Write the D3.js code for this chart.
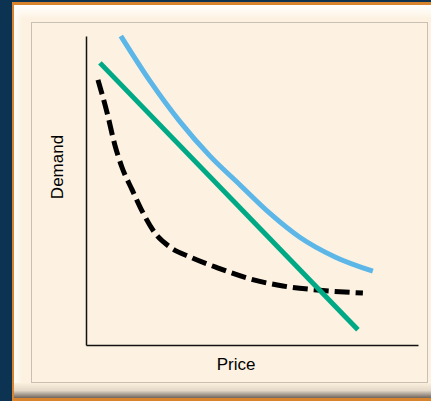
<!DOCTYPE html>
<html>
<head>
<meta charset="utf-8">
<script src="https://cdn.jsdelivr.net/npm/d3@7"></script>
<style>
  html, body { margin: 0; padding: 0; background: #0c3352; }
  svg { display: block; }
</style>
</head>
<body>
<svg id="chart" width="431" height="401"></svg>
<script>
// Price on the horizontal axis, demand on the vertical axis (relative units 0-100)
const elasticPrice   = [10.5, 19.3, 28.3, 37.3, 46.4, 55.4, 64.5, 75.0, 86.4];
const elasticDemand  = [100, 85.4, 72.3, 61.2, 51.8, 42.6, 34.8, 28.5, 23.9];

const linearPrice    = [4.2, 81.9];
const linearDemand   = [91.3, 4.9];

const inelasticPrice  = [3.6, 6.3, 8.7, 10.8, 13.9, 17.2, 20.8, 25.3, 31.3, 39.8, 49.4, 59.3, 69.6, 83.4];
const inelasticDemand = [85.8, 75.4, 64.7, 57.6, 50.2, 42.7, 36.2, 31.7, 28.5, 24.9, 21.4, 19.1, 17.8, 16.8];

const axisLabels = { x: "Price", y: "Demand" };

const svg = d3.select("#chart");
const W = 431, H = 401;

// ---- frame ----
const defs = svg.append("defs");
const topGlow = defs.append("linearGradient").attr("id", "topGlow")
  .attr("x1", 0).attr("y1", 0).attr("x2", 0).attr("y2", 1);
topGlow.append("stop").attr("offset", 0).attr("stop-color", "#fff").attr("stop-opacity", 1);
topGlow.append("stop").attr("offset", 1).attr("stop-color", "#fff").attr("stop-opacity", 0);

const leftGlow = defs.append("linearGradient").attr("id", "leftGlow")
  .attr("x1", 0).attr("y1", 0).attr("x2", 1).attr("y2", 0);
leftGlow.append("stop").attr("offset", 0).attr("stop-color", "#fff").attr("stop-opacity", 0.8);
leftGlow.append("stop").attr("offset", 1).attr("stop-color", "#fff").attr("stop-opacity", 0);

const bottomShade = defs.append("linearGradient").attr("id", "bottomShade")
  .attr("x1", 0).attr("y1", 0).attr("x2", 0).attr("y2", 1);
bottomShade.append("stop").attr("offset", 0).attr("stop-color", "#fbf0de");
bottomShade.append("stop").attr("offset", 0.5).attr("stop-color", "#e4d9c8");
bottomShade.append("stop").attr("offset", 1).attr("stop-color", "#6f655d");

// orange rim
svg.append("rect").attr("x", 12).attr("y", 2).attr("width", W - 12).attr("height", H - 2)
  .attr("fill", "#d8842f");
// outer cream panel
svg.append("rect").attr("x", 14).attr("y", 5).attr("width", W - 14).attr("height", H - 8)
  .attr("fill", "#fdf2e1");
// top and left highlights
svg.append("rect").attr("x", 14).attr("y", 5).attr("width", W - 14).attr("height", 14)
  .attr("fill", "url(#topGlow)");
svg.append("rect").attr("x", 14).attr("y", 5).attr("width", 8).attr("height", H - 8)
  .attr("fill", "url(#leftGlow)");
// bottom bevel
svg.append("rect").attr("x", 14).attr("y", 383).attr("width", W - 14).attr("height", 15)
  .attr("fill", "url(#bottomShade)");
// inner panel
svg.append("rect").attr("x", 31.5).attr("y", 22.5).attr("width", 396).attr("height", 360)
  .attr("fill", "#fdf2e1").attr("stroke", "#c9bfb2").attr("stroke-width", 1);

// ---- scales ----
const x = d3.scaleLinear().domain([0, 100]).range([86, 418]);
const y = d3.scaleLinear().domain([0, 100]).range([345, 36]);

// axes without ticks
const xAxis = d3.axisBottom(x).tickValues([]).tickSizeOuter(0);
const yAxis = d3.axisLeft(y).tickValues([]).tickSizeOuter(0);
svg.append("g").attr("transform", `translate(0,${y(0)})`).call(xAxis)
  .select(".domain").attr("stroke", "#111").attr("stroke-width", 1.5);
svg.append("g").attr("transform", `translate(${x(0)},0)`).call(yAxis)
  .select(".domain").attr("stroke", "#111").attr("stroke-width", 1.5);

const zip = (xs, ys) => xs.map((v, i) => [v, ys[i]]);
const line = d3.line().x(d => x(d[0])).y(d => y(d[1])).curve(d3.curveMonotoneX);

// inelastic (dashed black)
svg.append("path").datum(zip(inelasticPrice, inelasticDemand))
  .attr("d", line).attr("fill", "none").attr("stroke", "#000")
  .attr("stroke-width", 5).attr("stroke-dasharray", "15,6");

// elastic (light blue)
svg.append("path").datum(zip(elasticPrice, elasticDemand))
  .attr("d", line).attr("fill", "none").attr("stroke", "#5cb6e8")
  .attr("stroke-width", 5);

// linear (green)
svg.append("path").datum(zip(linearPrice, linearDemand))
  .attr("d", d3.line().x(d => x(d[0])).y(d => y(d[1])))
  .attr("fill", "none").attr("stroke", "#00a986").attr("stroke-width", 5);

// axis labels
svg.append("text").attr("x", 236).attr("y", 370)
  .attr("text-anchor", "middle").attr("font-family", "Liberation Sans, Arial, sans-serif")
  .attr("font-size", 17).attr("fill", "#000").text(axisLabels.x);
svg.append("text").attr("transform", "translate(63,167) rotate(-90)")
  .attr("text-anchor", "middle").attr("font-family", "Liberation Sans, Arial, sans-serif")
  .attr("font-size", 17).attr("fill", "#000").text(axisLabels.y);
</script>
</body>
</html>
